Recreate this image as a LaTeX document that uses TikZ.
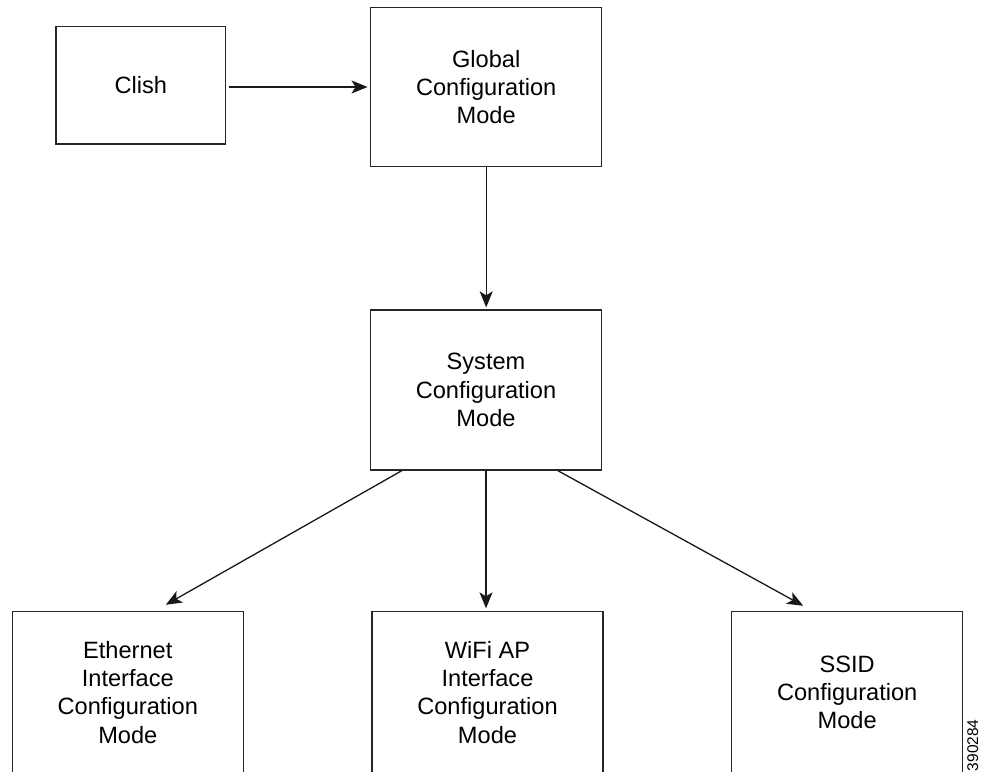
\documentclass[tikz,border=0pt]{standalone}
\usepackage{fontspec}
\setmainfont{Liberation Sans}
\usetikzlibrary{arrows.meta}
\begin{document}
\begin{tikzpicture}[x=1pt,y=-1pt,
  modebox/.style={draw=black!85, line width=1.3pt, align=center, inner sep=0pt,
                  font=\fontsize{23.6pt}{28.3pt}\selectfont},
  wide/.style={minimum width=231pt, minimum height=160pt},
  tall/.style={minimum width=231pt, minimum height=162pt},
  link/.style={draw=black!90, line width=1.3pt,
               -{Stealth[length=16pt,width=13pt,inset=4pt]}}]
% canvas (bottom row of boxes runs off the lower edge)
\clip (0,0) rectangle (982,771);
\fill[white] (0,0) rectangle (982,771);

% mode boxes
\node[modebox, minimum width=169.7pt, minimum height=117.3pt] (clish) at (140.9,85.3) {Clish};
\node[modebox, wide, minimum height=159.4pt] (global) at (486.2,87) {Global\\Configuration\\Mode};
\node[modebox, wide] (system) at (486,390) {System\\Configuration\\Mode};
\node[modebox, tall] (eth) at (127.8,692.4) {Ethernet\\Interface\\Configuration\\Mode};
\node[modebox, tall] (wifi) at (487.5,692.4) {WiFi AP\\Interface\\Configuration\\Mode};
\node[modebox, tall] (ssid) at (847.2,692.4) {SSID\\Configuration\\Mode};

% figure number
\node[rotate=90, anchor=east, inner sep=0pt, font=\fontsize{15.5pt}{17pt}\selectfont]
  (fignum) at (972.8,719.3) {390284};

% connectors
\draw[link, shorten <=2.5pt, shorten >=2.5pt] (clish.east |- global.west) -- (global.west);
\draw[link, shorten >=2pt] (global.south) -- (global.south |- system.north);
\draw[link] ([xshift=32pt]system.south west) -- ([xshift=38pt,yshift=6pt]eth.north);
\draw[link, shorten >=2.4pt] (system.south) -- (system.south |- wifi.north);
\draw[link] ([xshift=-44.3pt]system.south east) -- ([xshift=-44pt,yshift=5pt]ssid.north);
\end{tikzpicture}
\end{document}
